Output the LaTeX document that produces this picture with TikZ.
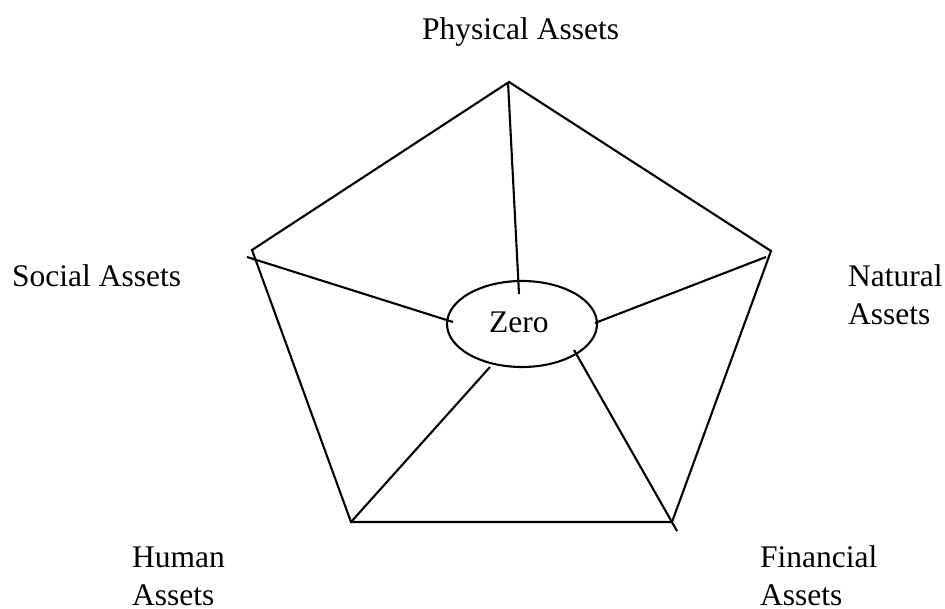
\documentclass[tikz,border=0pt]{standalone}
\usepackage{fontspec}
\setmainfont{Liberation Serif}
\usetikzlibrary{shapes.geometric}
\begin{document}
\begin{tikzpicture}[x=1pt,y=-1pt,
  edge/.style={line width=2.1pt,line join=miter},
  lbl/.style={inner sep=0pt,anchor=base west,align=left,font=\fontsize{31.5}{38}\selectfont},
  hub/.style={ellipse,draw,line width=2.1pt,minimum width=150pt,minimum height=86pt,inner sep=0pt}]
\useasboundingbox (0,0) rectangle (945,609);
% pentagon vertices
\coordinate (T) at (509,82);
\coordinate (R) at (771,251);
\coordinate (BR) at (672,522);
\coordinate (BL) at (351,522);
\coordinate (L) at (252,250);
% hub
\node[hub] (zero) at (522,324) {};
\node[lbl] (zt) at (489,333) {Zero};
% spoke ends
\coordinate (tS) at (508,82);
\coordinate (tE) at (519,294);
\coordinate (lS) at (247,257);
\coordinate (lE) at (453,322);
\coordinate (rS) at (766,257);
\coordinate (rE) at (595,323);
\coordinate (brS) at (677,531);
\coordinate (brE) at (574,350);
\coordinate (blS) at (351,522);
\coordinate (blE) at (490,367);
\draw[edge] (T) -- (R) -- (BR) -- (BL) -- (L) -- cycle;
\draw[edge] (tS) -- (tE);
\draw[edge] (lS) -- (lE);
\draw[edge] (rS) -- (rE);
\draw[edge] (brS) -- (brE);
\draw[edge] (blS) -- (blE);
% labels (base anchor = baseline of last line)
\node[lbl] (phys) at (422,40) {Physical Assets};
\node[lbl] (soc) at (12,287) {Social Assets};
\node[lbl] (nat) at (848,325) {Natural\\Assets};
\node[lbl] (hum) at (132,605) {Human\\Assets};
\node[lbl] (fin) at (760,605) {Financial\\Assets};
\end{tikzpicture}
\end{document}
